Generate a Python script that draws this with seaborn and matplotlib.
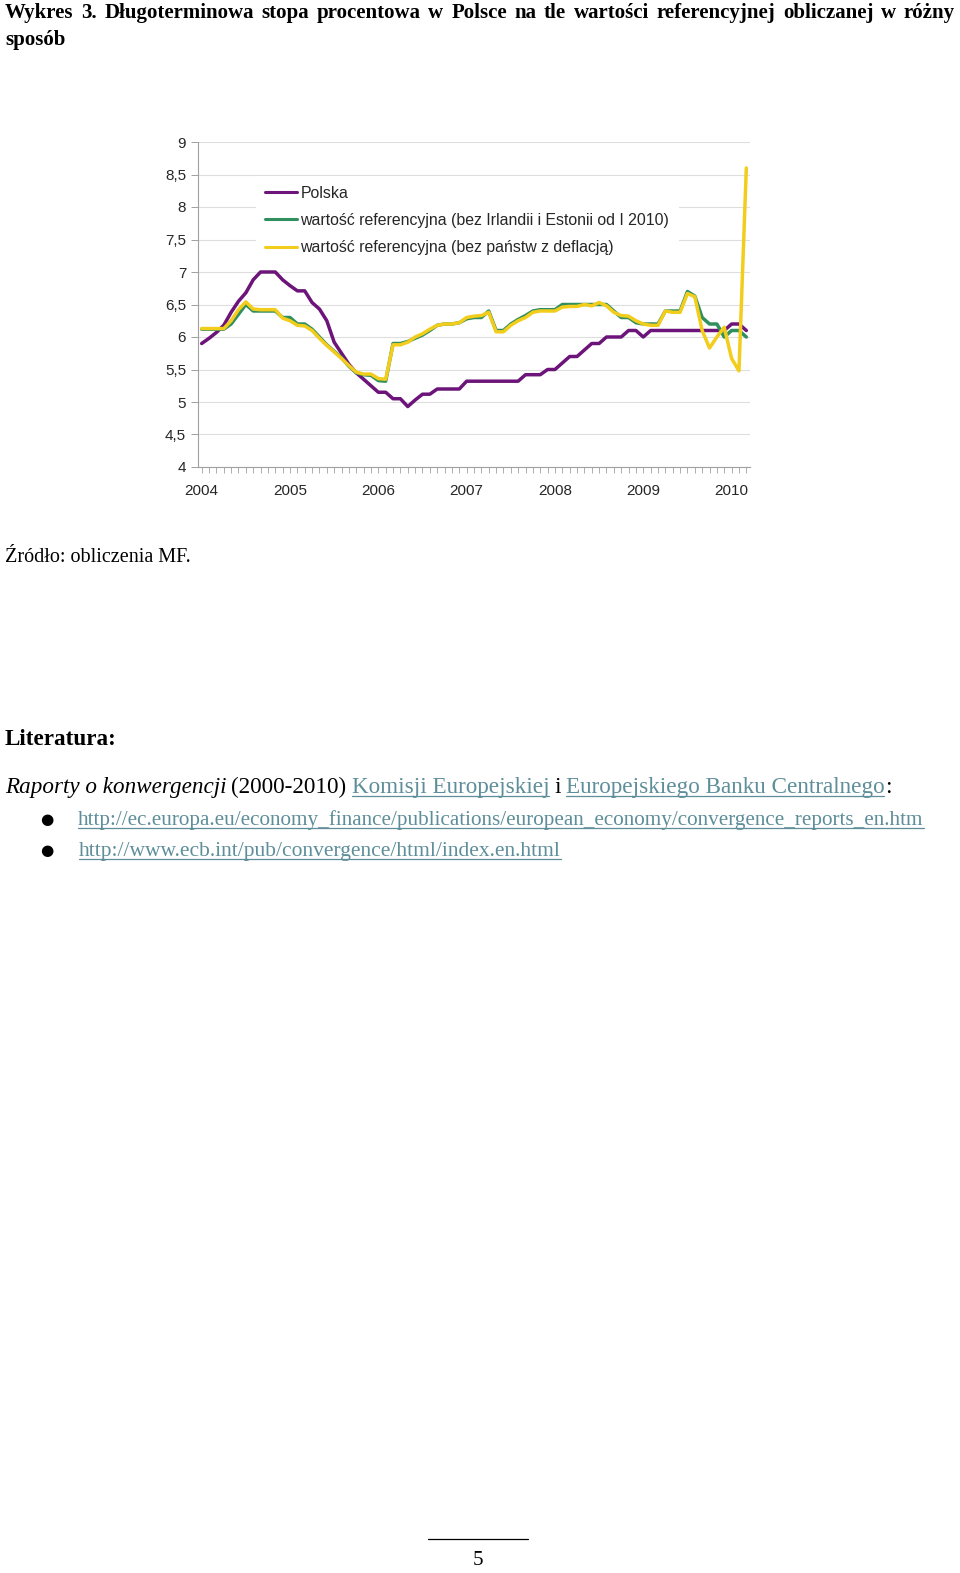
import numpy as np
import pandas as pd
import matplotlib
matplotlib.use("Agg")
import matplotlib.pyplot as plt
import seaborn as sns
from matplotlib.lines import Line2D
from matplotlib.ticker import MultipleLocator, FuncFormatter

# --- DATA: monthly values, I 2004 - III 2010 ---
years = [2004, 2005, 2006, 2007, 2008, 2009, 2010]

polska = [5.90, 5.98, 6.07, 6.18, 6.38, 6.55, 6.68, 6.88, 7.00, 7.00,
          7.00, 6.88, 6.79, 6.71, 6.71, 6.53, 6.43, 6.25, 5.92, 5.75,
          5.58, 5.45, 5.35, 5.25, 5.15, 5.15, 5.05, 5.05, 4.93, 5.03,
          5.12, 5.12, 5.20, 5.20, 5.20, 5.20, 5.32, 5.32, 5.32, 5.32,
          5.32, 5.32, 5.32, 5.32, 5.42, 5.42, 5.42, 5.50, 5.50, 5.60,
          5.70, 5.70, 5.80, 5.90, 5.90, 6.00, 6.00, 6.00, 6.10, 6.10,
          6.00, 6.10, 6.10, 6.10, 6.10, 6.10, 6.10, 6.10, 6.10, 6.10,
          6.10, 6.10, 6.20, 6.20, 6.10]

ref_bez_irl = [6.12, 6.12, 6.12, 6.12, 6.20, 6.35, 6.50, 6.40, 6.40, 6.40,
               6.40, 6.30, 6.30, 6.20, 6.20, 6.12, 6.00, 5.88, 5.78, 5.68,
               5.55, 5.45, 5.42, 5.41, 5.33, 5.32, 5.90, 5.90, 5.93, 5.98,
               6.03, 6.10, 6.18, 6.20, 6.20, 6.22, 6.28, 6.30, 6.30, 6.40,
               6.10, 6.10, 6.20, 6.27, 6.33, 6.40, 6.42, 6.42, 6.42, 6.50,
               6.50, 6.50, 6.50, 6.50, 6.50, 6.50, 6.40, 6.30, 6.30, 6.22,
               6.20, 6.20, 6.20, 6.40, 6.40, 6.40, 6.70, 6.63, 6.30, 6.20,
               6.20, 6.00, 6.10, 6.10, 6.00]

ref_bez_defl = [6.13, 6.13, 6.13, 6.13, 6.25, 6.42, 6.54, 6.43, 6.42, 6.42,
                6.42, 6.29, 6.25, 6.18, 6.17, 6.10, 5.98, 5.87, 5.77, 5.67,
                5.56, 5.46, 5.43, 5.43, 5.36, 5.35, 5.88, 5.88, 5.92, 6.00,
                6.05, 6.12, 6.18, 6.20, 6.20, 6.22, 6.30, 6.32, 6.33, 6.38,
                6.08, 6.08, 6.18, 6.25, 6.30, 6.38, 6.40, 6.40, 6.40, 6.46,
                6.47, 6.47, 6.50, 6.48, 6.53, 6.48, 6.38, 6.33, 6.32, 6.25,
                6.20, 6.18, 6.18, 6.40, 6.38, 6.38, 6.67, 6.62, 6.10, 5.83,
                6.00, 6.15, 5.67, 5.48, 8.60]

labels = ["Polska",
          "wartość referencyjna (bez Irlandii i Estonii od I 2010)",
          "wartość referencyjna (bez państw z deflacją)"]
colors = ["#6c1479", "#2f8f5e", "#f3cd1c"]

W, H = 960, 1573
LINK = "#5d8e99"

# long table for seaborn
months = np.arange(len(polska))
df = pd.concat([
    pd.DataFrame({"m": months, "v": polska, "s": labels[0]}),
    pd.DataFrame({"m": months, "v": ref_bez_irl, "s": labels[1]}),
    pd.DataFrame({"m": months, "v": ref_bez_defl, "s": labels[2]}),
])

sns.set_style("white")
plt.rcParams["font.family"] = ["Liberation Sans", "DejaVu Sans"]

fig = plt.figure(figsize=(W / 100, H / 100), dpi=100)
ax = fig.add_axes([198 / W, 1 - 467 / H, 552 / W, 325 / H])

sns.lineplot(data=df, x="m", y="v", hue="s", hue_order=labels,
             palette=dict(zip(labels, colors)), linewidth=2.5, ax=ax)

ax.set_xlim(-0.5, 74.5)
ax.set_ylim(4, 9)
ax.yaxis.set_major_locator(MultipleLocator(0.5))
ax.yaxis.set_major_formatter(FuncFormatter(lambda v, p: f"{v:g}".replace(".", ",")))
ax.set_xticks([12 * i for i in range(len(years))])
ax.set_xticklabels([str(y) for y in years])
ax.xaxis.set_minor_locator(MultipleLocator(1))
ax.grid(axis="y", color="#dedede", linewidth=0.8)
ax.set_axisbelow(True)
ax.set_xlabel("")
ax.set_ylabel("")

for side in ["top", "right"]:
    ax.spines[side].set_visible(False)
for side in ["left", "bottom"]:
    ax.spines[side].set_color("#a0a0a0")
    ax.spines[side].set_linewidth(0.8)

ax.tick_params(axis="y", which="both", left=True, length=5, width=0.7,
               color="#a0a0a0", labelsize=11, pad=3.5)
ax.tick_params(axis="x", which="both", bottom=True, length=4, width=0.6,
               color="#a0a0a0", labelsize=11, pad=8.5)

leg = ax.legend(loc="upper left", bbox_to_anchor=(0.105, 0.895), frameon=True,
                fontsize=11.4, handlelength=2.0, handletextpad=0.2,
                labelspacing=0.78, borderpad=0.6, borderaxespad=0)
leg.get_frame().set_facecolor("white")
leg.get_frame().set_edgecolor("none")
leg.get_frame().set_alpha(1)
for h in leg.get_lines():
    h.set_linewidth(2.2)

# --- page text ---
renderer = fig.canvas.get_renderer()


def put(x, y, s, size, color="black", style="normal", weight="normal",
        underline=False, family="Liberation Serif"):
    t = fig.text(x / W, 1 - y / H, s, fontsize=size, color=color, style=style,
                 weight=weight, family=family, va="baseline", ha="left")
    bb = t.get_window_extent(renderer)
    if underline:
        fig.add_artist(Line2D([bb.x0 / W, bb.x1 / W], [1 - (y + 3) / H] * 2,
                              color=color, linewidth=0.9))
    return bb.x1


# justified first title line
title1 = "Wykres 3. Długoterminowa stopa procentowa w Polsce na tle wartości referencyjnej obliczanej w różny"
words = title1.split()
widths = []
for w in words:
    t = fig.text(0, 0, w, fontsize=15, weight="bold", family="Liberation Serif")
    widths.append(t.get_window_extent(renderer).width)
    t.remove()
gap = (955 - 5 - sum(widths)) / (len(words) - 1)
x = 5
for w, wd in zip(words, widths):
    put(x, 18, w, 15, weight="bold")
    x += wd + gap
put(5, 45, "sposób", 15, weight="bold")

put(5, 562, "Źródło: obliczenia MF.", 14.5)

put(5, 745, "Literatura:", 16.7, weight="bold")

sp = 5
x = put(5, 793, "Raporty o konwergencji", 16.7, style="italic") + sp
x = put(x, 793, "(2000-2010)", 16.7) + sp
x = put(x, 793, "Komisji Europejskiej", 16.7, color=LINK, underline=True) + sp
x = put(x, 793, "i", 16.7) + sp
x = put(x, 793, "Europejskiego Banku Centralnego", 16.7, color=LINK, underline=True)
put(x + 1, 793, ":", 16.7)

put(40, 824, "●", 11, family="DejaVu Sans")
put(78, 825, "http://ec.europa.eu/economy_finance/publications/european_economy/convergence_reports_en.htm",
    15.2, color=LINK, underline=True)
put(40, 855, "●", 11, family="DejaVu Sans")
put(79, 856, "http://www.ecb.int/pub/convergence/html/index.en.html",
    15.5, color=LINK, underline=True)

fig.add_artist(Line2D([428 / W, 528 / W], [1 - 1539 / H] * 2, color="black", linewidth=0.9))
put(473, 1565, "5", 15)

fig.savefig("out.png", dpi=100, facecolor="white")
